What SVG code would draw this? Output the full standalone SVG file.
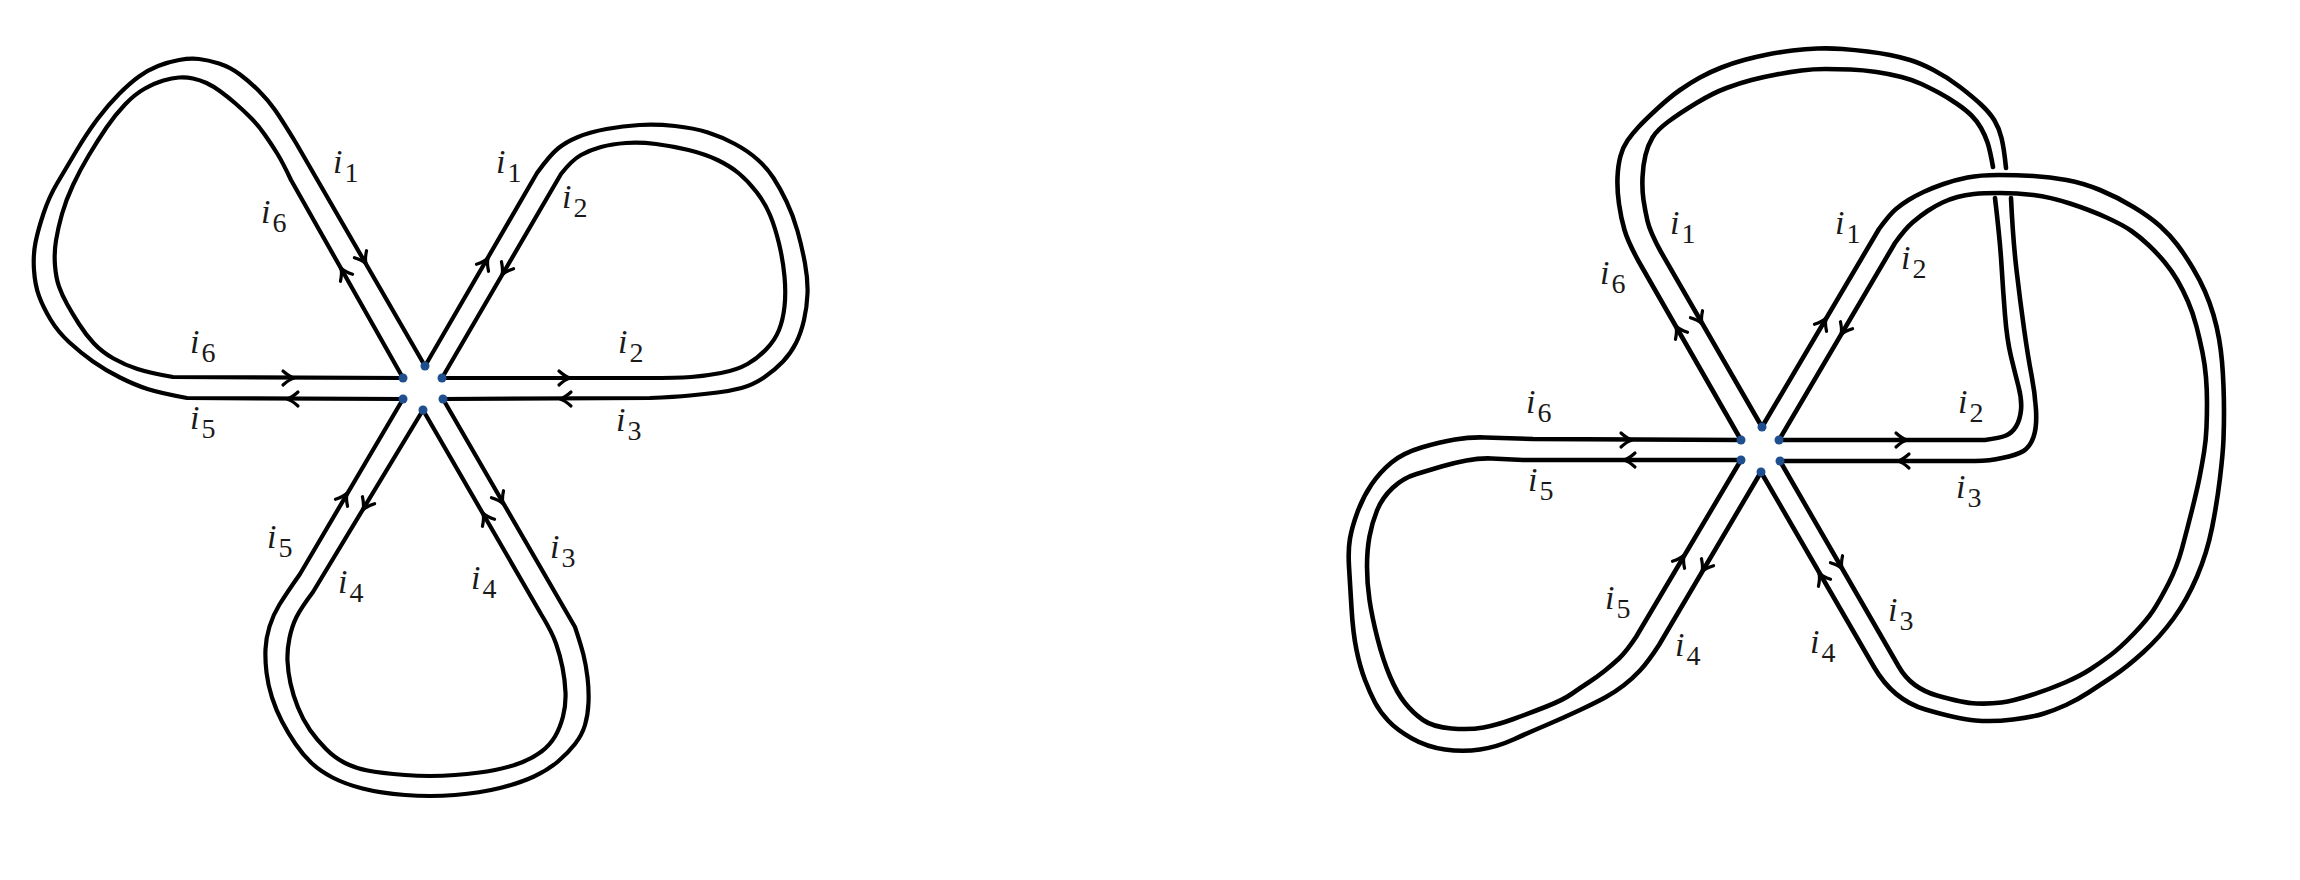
<svg xmlns="http://www.w3.org/2000/svg" width="2300" height="880" viewBox="0 0 2300 880">
<style>
.band{fill:none;stroke:#000;stroke-width:4.2;stroke-linecap:round;stroke-linejoin:round}
.bandB{fill:none;stroke:#000;stroke-width:4.6;stroke-linecap:round;stroke-linejoin:round}
.arr{fill:none;stroke:#000;stroke-width:3.2;stroke-linecap:round;stroke-linejoin:round}
.dot{fill:#1f4f8f}
.lb{font-family:"Liberation Serif","DejaVu Serif",serif;fill:#1a1a1a}
.i{font-style:italic;font-size:34px}
.s{font-size:28px}
</style>
<defs>
<path id="ah" d="M-9,-7 Q-3,-1.5 2,0 Q-3,1.5 -9,7"/>
</defs>
<rect width="2300" height="880" fill="#fff"/>

<g id="figure-a">
<g id="a-connectors">
<path class="band" d="M425,366 L296,143 Q282,120 275,110 Q268,100 259,91 Q250,82 240,74.5 Q230,67 219,63.5 Q208,60 199,59 Q190,58 179,60 Q168,62 158,66 Q148,70 139,76.5 Q130,83 119,94 Q108,105 97.5,119 Q87,133 76,151.5 Q65,170 57,183.5 Q49,197 43.5,213.5 Q38,230 35.5,242.5 Q33,255 34,270 Q35,285 39,296 Q43,307 50.5,319.5 Q58,332 69.5,342.5 Q81,353 93,361.5 Q105,370 120,377.5 Q135,385 147.5,389 Q160,393 187,398 L403,399"/>
<path class="band" d="M403,378 L291,180 Q283,163 277.5,154 Q272,145 265,135 Q258,125 250.5,117.5 Q243,110 235.5,103.5 Q228,97 220.5,91.5 Q213,86 206.5,83 Q200,80 193,78.5 Q186,77 179,77.5 Q172,78 163.5,80.5 Q155,83 145,88.5 Q135,94 125,104.5 Q115,115 106.5,127.5 Q98,140 89,155 Q80,170 73,185 Q66,200 62,214 Q58,228 56,240.5 Q54,253 55,265.5 Q56,278 59,286.5 Q62,295 67,304 Q72,313 79,324 Q86,335 94,343.5 Q102,352 113.5,358.5 Q125,365 137.5,369 Q150,373 173,377 L403,378"/>
<path class="band" d="M425,366 L537,173 Q550,155 558,148.5 Q566,142 578,137 Q590,132 606.5,129 Q623,126 639.5,125 Q656,124 675,126 Q694,128 708,132.5 Q722,137 735,144 Q748,151 757.5,159.5 Q767,168 773.5,178 Q780,188 786.5,201.5 Q793,215 797.5,231 Q802,247 805,263.5 Q808,280 807.5,293.5 Q807,307 804,320 Q801,333 796,343 Q791,353 783,361.5 Q775,370 764,377.5 Q753,385 741.5,388 Q730,391 717.5,392.5 Q705,394 690,395.5 Q675,397 650,398 L443,399"/>
<path class="band" d="M442,378 L561,174 Q572,160 581,155 Q590,150 601,147 Q612,144 626,143 Q640,142 656,144 Q672,146 688.5,150 Q705,154 717.5,160 Q730,166 739,173.5 Q748,181 756.5,192 Q765,203 770,215 Q775,227 779,243.5 Q783,260 784.5,276.5 Q786,293 784.5,306.5 Q783,320 779,330 Q775,340 766.5,349 Q758,358 747.5,364 Q737,370 721,373 Q705,376 691,377 Q677,378 648,378 L442,378"/>
<path class="band" d="M403,399 L300,574 Q286,594 279.5,604.5 Q273,615 269.5,626.5 Q266,638 265.5,649 Q265,660 266.5,672.5 Q268,685 272,697.5 Q276,710 282,721.5 Q288,733 295.5,744 Q303,755 311.5,763 Q320,771 332.5,777.5 Q345,784 362.5,788.5 Q380,793 405,795 Q430,797 455,795 Q480,793 500,788 Q520,783 534,776.5 Q548,770 558,761.5 Q568,753 575,744 Q582,735 585,725 Q588,715 588.5,702.5 Q589,690 587.5,677.5 Q586,665 583.5,655 Q581,645 575,627 L443,399"/>
<path class="band" d="M423,410 L313,592 Q301,608 296.5,617 Q292,626 289.5,638 Q287,650 287.5,661 Q288,672 290.5,683.5 Q293,695 298,707.5 Q303,720 310,730 Q317,740 326,749 Q335,758 345,763 Q355,768 367.5,770.5 Q380,773 405,775 Q430,777 455,775 Q480,773 495,770 Q510,767 521.5,762.5 Q533,758 541.5,751.5 Q550,745 555,736.5 Q560,728 563,716.5 Q566,705 565.5,692.5 Q565,680 562.5,667.5 Q560,655 556,643.5 Q552,632 541,614 L423,410"/>
</g>
<g id="a-arrows" class="arr">
<use href="#ah" transform="translate(365,262) rotate(60)"/>
<use href="#ah" transform="translate(342,270) rotate(240)"/>
<use href="#ah" transform="translate(487,260) rotate(300)"/>
<use href="#ah" transform="translate(503,273) rotate(120)"/>
<use href="#ah" transform="translate(292,378) rotate(0)"/>
<use href="#ah" transform="translate(289,399) rotate(180)"/>
<use href="#ah" transform="translate(568,378) rotate(0)"/>
<use href="#ah" transform="translate(562,399) rotate(180)"/>
<use href="#ah" transform="translate(346,495) rotate(300)"/>
<use href="#ah" transform="translate(364,508) rotate(120)"/>
<use href="#ah" transform="translate(484,515) rotate(240)"/>
<use href="#ah" transform="translate(502,502) rotate(60)"/>
</g>
<g id="a-vertex">
<circle class="dot" cx="425" cy="366" r="4.5"/>
<circle class="dot" cx="403" cy="378" r="4.5"/>
<circle class="dot" cx="442" cy="378" r="4.5"/>
<circle class="dot" cx="403" cy="399" r="4.5"/>
<circle class="dot" cx="443" cy="399" r="4.5"/>
<circle class="dot" cx="423" cy="410" r="4.5"/>
</g>
<g id="a-labels" class="lb">
<text x="333" y="173"><tspan class="i">i</tspan><tspan class="s" dx="2" dy="9">1</tspan></text>
<text x="261" y="223"><tspan class="i">i</tspan><tspan class="s" dx="2" dy="9">6</tspan></text>
<text x="496" y="173"><tspan class="i">i</tspan><tspan class="s" dx="2" dy="9">1</tspan></text>
<text x="562" y="208"><tspan class="i">i</tspan><tspan class="s" dx="2" dy="9">2</tspan></text>
<text x="190" y="353"><tspan class="i">i</tspan><tspan class="s" dx="2" dy="9">6</tspan></text>
<text x="190" y="429"><tspan class="i">i</tspan><tspan class="s" dx="2" dy="9">5</tspan></text>
<text x="618" y="353"><tspan class="i">i</tspan><tspan class="s" dx="2" dy="9">2</tspan></text>
<text x="616" y="431"><tspan class="i">i</tspan><tspan class="s" dx="2" dy="9">3</tspan></text>
<text x="267" y="548"><tspan class="i">i</tspan><tspan class="s" dx="2" dy="9">5</tspan></text>
<text x="338" y="593"><tspan class="i">i</tspan><tspan class="s" dx="2" dy="9">4</tspan></text>
<text x="471" y="589"><tspan class="i">i</tspan><tspan class="s" dx="2" dy="9">4</tspan></text>
<text x="550" y="558"><tspan class="i">i</tspan><tspan class="s" dx="2" dy="9">3</tspan></text>
</g>
</g>

<g id="figure-b">
<g id="b-connectors">
<path class="bandB" d="M1741,440 L1639,262 Q1628,242 1624.5,230 Q1621,218 1619,204 Q1617,190 1617.5,177.5 Q1618,165 1620.5,156 Q1623,147 1627.5,140.5 Q1632,134 1638.5,127 Q1645,120 1657.5,108.5 Q1670,97 1680,90 Q1690,83 1700,77.5 Q1710,72 1721.5,67.5 Q1733,63 1744,60 Q1755,57 1767.5,54.5 Q1780,52 1792.5,50.5 Q1805,49 1817.5,48.5 Q1830,48 1842.5,49 Q1855,50 1867.5,51.5 Q1880,53 1890,55 Q1900,57 1910,60 Q1920,63 1933.5,70 Q1947,77 1960,87 Q1973,97 1981.5,105 Q1990,113 1994.5,120.5 Q1999,128 2001.5,138 Q2004,148 2006,168"/>
<path class="bandB" d="M2011,198 Q2013,240 2016.5,270 Q2020,300 2024,328.5 Q2028,357 2031.5,375 Q2035,393 2036,410 Q2037,427 2033.5,437 Q2030,447 2023.5,451 Q2017,455 2002,458 Q1990,461 1975,461 L1780,461"/>
<path class="bandB" d="M1762,427 L1661,252 Q1650,232 1647.5,221 Q1645,210 1643.5,200 Q1642,190 1642.5,177.5 Q1643,165 1645.5,155 Q1648,145 1652.5,137.5 Q1657,130 1668.5,121.5 Q1680,113 1696.5,103 Q1713,93 1726.5,88 Q1740,83 1751.5,80 Q1763,77 1776.5,74.5 Q1790,72 1801.5,70.5 Q1813,69 1825.5,69 Q1838,69 1850.5,69.5 Q1863,70 1876.5,72 Q1890,74 1901.5,77 Q1913,80 1921.5,84 Q1930,88 1938.5,92.5 Q1947,97 1956.5,103.5 Q1966,110 1971.5,115.5 Q1977,121 1981,128 Q1985,135 1987.5,142.5 Q1990,150 1993,167"/>
<path class="bandB" d="M1995,198 Q2000,240 2001.5,265 Q2003,290 2005,315 Q2007,340 2011,356.5 Q2015,373 2018.5,386.5 Q2022,400 2021,410 Q2020,420 2016,426.5 Q2012,433 2006,435.5 Q2000,438 1985,440 L1779,440"/>
<path class="bandB" d="M1762,427 L1879,229 Q1890,214 1896,209 Q1902,204 1908.5,200 Q1915,196 1923.5,192 Q1932,188 1943.5,184 Q1955,180 1967.5,177.5 Q1980,175 1998.5,175 Q2017,175 2033.5,176 Q2050,177 2066.5,180 Q2083,183 2100,190 Q2117,197 2133.5,207 Q2150,217 2160,226 Q2170,235 2177.5,245 Q2185,255 2192.5,267.5 Q2200,280 2205,291.5 Q2210,303 2213.5,315 Q2217,327 2219,338.5 Q2221,350 2222,361.5 Q2223,373 2223.5,386.5 Q2224,400 2224,412.5 Q2224,425 2223.5,439 Q2223,453 2220,478 Q2217,503 2212,528 Q2207,553 2197,576.5 Q2187,600 2173.5,618.5 Q2160,637 2143.5,652 Q2127,667 2113.5,676 Q2100,685 2088.5,692.5 Q2077,700 2066,705 Q2055,710 2044,713.5 Q2033,717 2013,719.5 Q1993,722 1975.5,720.5 Q1958,719 1925.5,709.5 Q1893,700 1874,667 L1761,472"/>
<path class="bandB" d="M1779,440 L1895,243 Q1905,229 1912.5,222.5 Q1920,216 1927.5,211 Q1935,206 1942.5,202.5 Q1950,199 1957.5,197 Q1965,195 1974,194 Q1983,193 2000,193 Q2017,193 2033.5,195 Q2050,197 2070,203.5 Q2090,210 2106.5,217.5 Q2123,225 2131.5,231 Q2140,237 2148.5,245 Q2157,253 2164.5,262 Q2172,271 2177.5,280.5 Q2183,290 2188,301.5 Q2193,313 2196.5,326.5 Q2200,340 2202.5,352.5 Q2205,365 2206,377.5 Q2207,390 2207,402.5 Q2207,415 2206.5,427.5 Q2206,440 2204,452.5 Q2202,465 2199.5,477.5 Q2197,490 2192,510 Q2187,530 2182,548.5 Q2177,567 2168.5,583.5 Q2160,600 2153.5,610 Q2147,620 2133.5,634 Q2120,648 2110,655.5 Q2100,663 2090,669.5 Q2080,676 2065,682.5 Q2050,689 2031.5,695 Q2013,701 2001.5,702.5 Q1990,704 1976.5,703.5 Q1963,703 1937,695.5 Q1911,688 1899,667 L1780,461"/>
<path class="bandB" d="M1761,472 L1659,645 Q1648,662 1640,670.5 Q1632,679 1623.5,685.5 Q1615,692 1606,697 Q1597,702 1580,710 Q1563,718 1546.5,725 Q1530,732 1513.5,739.5 Q1497,747 1480,749.5 Q1463,752 1445,749.5 Q1427,747 1412,738.5 Q1397,730 1388.5,721 Q1380,712 1375,702.5 Q1370,693 1365,680 Q1360,667 1356.5,650 Q1353,633 1351.5,608 Q1350,583 1349,566.5 Q1348,550 1350,538.5 Q1352,527 1357.5,512 Q1363,497 1371.5,484.5 Q1380,472 1391.5,462.5 Q1403,453 1421.5,447.5 Q1440,442 1455,439.5 Q1470,437 1485,437.5 Q1500,438 1533,439 L1741,440"/>
<path class="bandB" d="M1741,460 L1636,637 Q1626,652 1619,658.5 Q1612,665 1604.5,671 Q1597,677 1588.5,682.5 Q1580,688 1571.5,694 Q1563,700 1546.5,706.5 Q1530,713 1513.5,719 Q1497,725 1483.5,727.5 Q1470,730 1451.5,728.5 Q1433,727 1423,720 Q1413,713 1405,703 Q1397,693 1390,676.5 Q1383,660 1377.5,638.5 Q1372,617 1369.5,600 Q1367,583 1367,566.5 Q1367,550 1369.5,536.5 Q1372,523 1377,510.5 Q1382,498 1392.5,488 Q1403,478 1416.5,474 Q1430,470 1441.5,466.5 Q1453,463 1466.5,460.5 Q1480,458 1491.5,458.5 Q1503,459 1523,460 L1741,460"/>
</g>
<g id="b-arrows" class="arr">
<use href="#ah" transform="translate(1677,328) rotate(240)"/>
<use href="#ah" transform="translate(1701,322) rotate(60)"/>
<use href="#ah" transform="translate(1825,320) rotate(300)"/>
<use href="#ah" transform="translate(1842,333) rotate(120)"/>
<use href="#ah" transform="translate(1630,440) rotate(0)"/>
<use href="#ah" transform="translate(1626,460) rotate(180)"/>
<use href="#ah" transform="translate(1905,440) rotate(0)"/>
<use href="#ah" transform="translate(1900,461) rotate(180)"/>
<use href="#ah" transform="translate(1683,557) rotate(300)"/>
<use href="#ah" transform="translate(1703,570) rotate(120)"/>
<use href="#ah" transform="translate(1820,575) rotate(240)"/>
<use href="#ah" transform="translate(1841,567) rotate(60)"/>
</g>
<g id="b-vertex">
<circle class="dot" cx="1762" cy="427" r="4.5"/>
<circle class="dot" cx="1741" cy="440" r="4.5"/>
<circle class="dot" cx="1779" cy="440" r="4.5"/>
<circle class="dot" cx="1741" cy="460" r="4.5"/>
<circle class="dot" cx="1780" cy="461" r="4.5"/>
<circle class="dot" cx="1761" cy="472" r="4.5"/>
</g>
<g id="b-labels" class="lb">
<text x="1670" y="234"><tspan class="i">i</tspan><tspan class="s" dx="2" dy="9">1</tspan></text>
<text x="1600" y="284"><tspan class="i">i</tspan><tspan class="s" dx="2" dy="9">6</tspan></text>
<text x="1835" y="234"><tspan class="i">i</tspan><tspan class="s" dx="2" dy="9">1</tspan></text>
<text x="1901" y="269"><tspan class="i">i</tspan><tspan class="s" dx="2" dy="9">2</tspan></text>
<text x="1526" y="413"><tspan class="i">i</tspan><tspan class="s" dx="2" dy="9">6</tspan></text>
<text x="1528" y="491"><tspan class="i">i</tspan><tspan class="s" dx="2" dy="9">5</tspan></text>
<text x="1958" y="413"><tspan class="i">i</tspan><tspan class="s" dx="2" dy="9">2</tspan></text>
<text x="1956" y="498"><tspan class="i">i</tspan><tspan class="s" dx="2" dy="9">3</tspan></text>
<text x="1605" y="609"><tspan class="i">i</tspan><tspan class="s" dx="2" dy="9">5</tspan></text>
<text x="1675" y="656"><tspan class="i">i</tspan><tspan class="s" dx="2" dy="9">4</tspan></text>
<text x="1810" y="653"><tspan class="i">i</tspan><tspan class="s" dx="2" dy="9">4</tspan></text>
<text x="1888" y="621"><tspan class="i">i</tspan><tspan class="s" dx="2" dy="9">3</tspan></text>
</g>
</g>
</svg>
